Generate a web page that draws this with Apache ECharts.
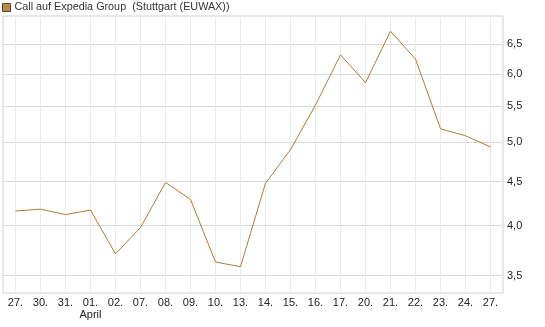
<!DOCTYPE html>
<html>
<head>
<meta charset="utf-8">
<script src="https://cdn.jsdelivr.net/npm/echarts@6/dist/echarts.min.js"></script>
<style>
  html, body { margin: 0; padding: 0; background: #fff; }
  #chart { width: 545px; height: 327px; }
</style>
</head>
<body>
<div id="chart"></div>
<script>
// dates (trading days), "April" starts at 01.
var days = ["27.", "30.", "31.", "01.", "02.", "07.", "08.", "09.", "10.", "13.",
  "14.", "15.", "16.", "17.", "20.", "21.", "22.", "23.", "24.", "27."];
var prices = [4.16, 4.18, 4.12, 4.17, 3.71, 3.98, 4.49, 4.29, 3.63, 3.585,
  4.48, 4.90, 5.52, 6.31, 5.86, 6.72, 6.24, 5.18, 5.085, 4.935];
var yTicks = [3.5, 4.0, 4.5, 5.0, 5.5, 6.0, 6.5];
var seriesName = "Call auf Expedia Group  (Stuttgart (EUWAX))";

var font = "Liberation Sans, Arial, sans-serif";
var chart = echarts.init(document.getElementById("chart"));

var option = {
  animation: false,
  textStyle: { fontFamily: font },
  legend: {
    left: 0,
    top: 0,
    padding: [2, 2],
    icon: "rect",
    itemWidth: 8,
    itemHeight: 8,
    itemGap: 5,
    textStyle: { fontSize: 10.8, color: "#333", fontFamily: font, padding: [0, 0, 0, -1] },
    data: [{
      name: seriesName,
      itemStyle: { color: "#b98a4e", borderColor: "#5a4228", borderWidth: 1 }
    }]
  },
  grid: {
    left: 3,
    right: 42,
    top: 16,
    bottom: 34,
    show: true,
    borderColor: "#cfcfcf",
    borderWidth: 1,
    containLabel: false
  },
  xAxis: {
    type: "category",
    data: days,
    boundaryGap: true,
    axisLine: { show: false },
    axisTick: { show: false },
    axisLabel: {
      interval: 0,
      margin: 4,
      fontSize: 11,
      color: "#222",
      lineHeight: 12,
      formatter: function (v, i) {
        return i === 3 ? v + "\nApril" : v;
      }
    },
    splitLine: {
      show: true,
      alignWithLabel: true,
      interval: 0,
      lineStyle: { color: "#ececec", width: 1 }
    }
  },
  yAxis: {
    type: "log",
    logBase: 10,
    position: "right",
    min: 3.342,
    max: 7.0,
    axisLine: { show: false },
    axisTick: { show: false, customValues: yTicks },
    axisLabel: {
      customValues: yTicks,
      margin: 4,
      fontSize: 11,
      color: "#222",
      formatter: function (v) { return v.toFixed(1).replace(".", ","); }
    },
    splitLine: {
      show: true,
      lineStyle: { color: "#d9d9d9", width: 1 }
    }
  },
  series: [{
    name: seriesName,
    type: "line",
    data: prices,
    symbol: "none",
    lineStyle: { color: "#b07a34", width: 1 },
    itemStyle: { color: "#b07a34" }
  }]
};

chart.setOption(option);
</script>
</body>
</html>
